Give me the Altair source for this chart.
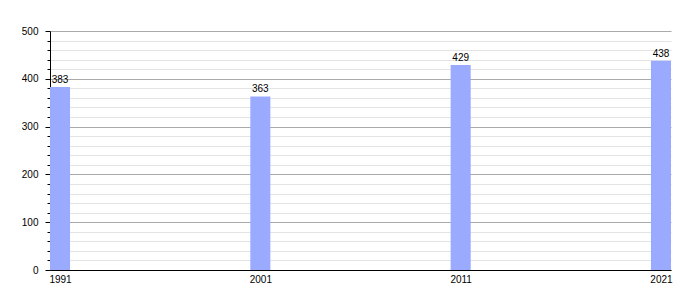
import altair as alt
import pandas as pd

years = [1991, 2001, 2011, 2021]
values = [383, 363, 429, 438]

df = pd.DataFrame({"year": years, "value": values})
df["year_end"] = df["year"] + 1
df["mid"] = df["year"] + 0.5

xscale = alt.Scale(domain=[1991, 2022], nice=False, zero=False)
yscale = alt.Scale(domain=[0, 500], nice=False)

yticks = list(range(0, 501, 20))

base = alt.Chart(df)

bars = base.mark_bar(color="#99aaff").encode(
    x=alt.X("year:Q", scale=xscale,
            axis=alt.Axis(values=[y + 0.5 for y in years],
                          labelExpr="floor(datum.value)",
                          title=None, grid=False, ticks=False,
                          domainColor="#000000", labelColor="#000000",
                          labelFont="Liberation Sans", labelFontSize=10,
                          labelPadding=4)),
    x2="year_end:Q",
    y=alt.Y("value:Q", scale=yscale,
            axis=alt.Axis(values=yticks, tickCount=100,
                          labelExpr="datum.value % 100 === 0 ? datum.label : ''",
                          title=None,
                          grid=True,
                          gridColor={"condition": {"test": "datum.value % 100 === 0", "value": "#aaaaaa"}, "value": "#e4e4e4"},
                          tickSize={"condition": {"test": "datum.value % 100 === 0", "value": 5}, "value": 3},
                          tickColor="#000000",
                          domainColor="#000000",
                          labelColor="#000000",
                          labelFont="Liberation Sans", labelFontSize=10,
                          labelPadding=7)),
    y2=alt.datum(0),
)

text = base.mark_text(baseline="bottom", dy=-2, font="Liberation Sans",
                      fontSize=10, color="#000000").encode(
    x=alt.X("mid:Q", scale=xscale),
    y=alt.Y("value:Q", scale=yscale),
    text="value:Q",
)

chart = alt.layer(bars, text).properties(
    width=621, height=239,
    autosize=alt.AutoSizeParams(type="none"),
    padding={"left": 50, "top": 31, "right": 29, "bottom": 30},
    background="#ffffff",
).configure_view(stroke=None)

chart.save("out.html", embed_options={"renderer": "svg", "actions": False})
